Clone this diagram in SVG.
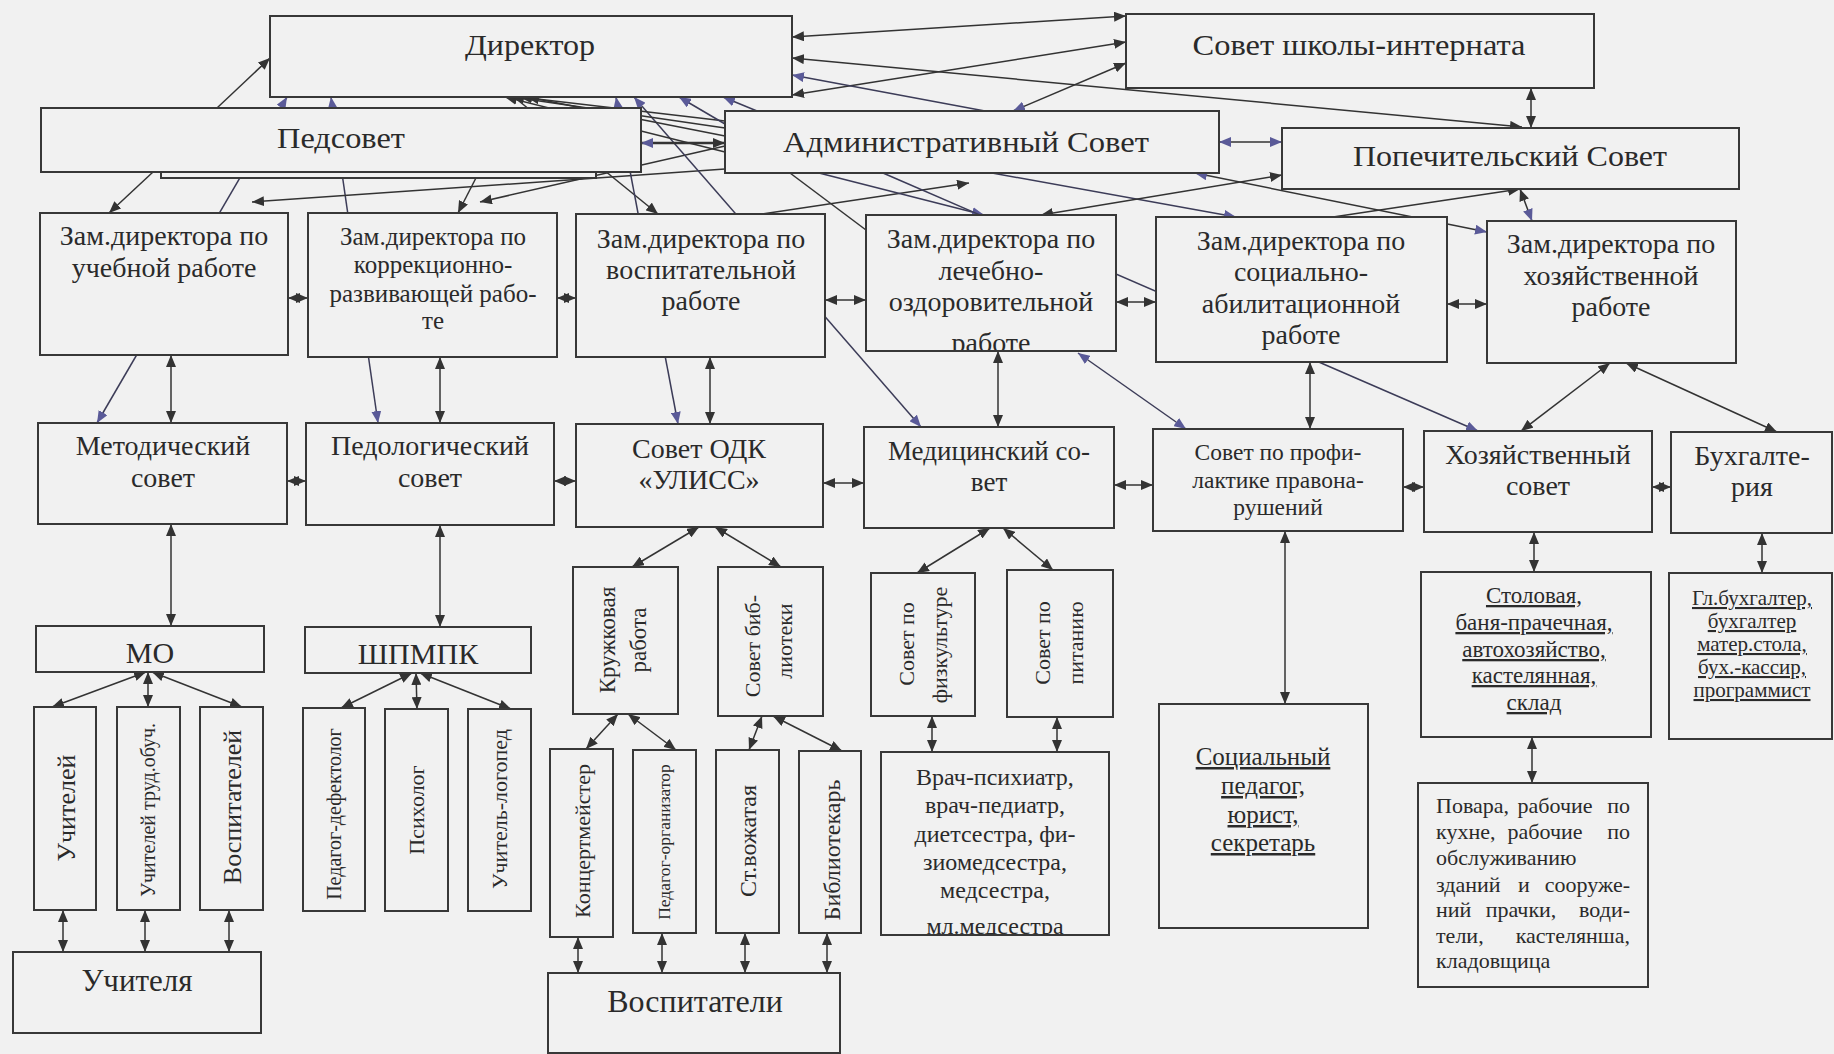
<svg xmlns="http://www.w3.org/2000/svg" width="1834" height="1054" viewBox="0 0 1834 1054">
<defs>
<style>
.box{fill:#f1f1f1;stroke:#383838;stroke-width:2}
.t{font-family:"Liberation Serif","Times New Roman",serif;fill:#2a2a2a;text-anchor:middle}
.st{text-anchor:start}
.en{text-anchor:end}
.l{stroke:#333;stroke-width:1.5;fill:none}
.p{stroke:#3c3c58}
.e{marker-end:url(#ab)}
.s{marker-start:url(#ab)}
.ep{marker-end:url(#ap)}
.sp{marker-start:url(#ap)}
.v{dominant-baseline:central}
.u{text-decoration:underline}
</style>
<marker id="ab" viewBox="0 0 12 10" refX="12" refY="5" markerWidth="12" markerHeight="10" markerUnits="userSpaceOnUse" orient="auto-start-reverse"><path d="M0,0 L12,5 L0,10 z" fill="#333"/></marker>
<marker id="ap" viewBox="0 0 12 10" refX="12" refY="5" markerWidth="12" markerHeight="10" markerUnits="userSpaceOnUse" orient="auto-start-reverse"><path d="M0,0 L12,5 L0,10 z" fill="#5a5a98"/></marker>
<clipPath id="clipLech"><rect x="866" y="215" width="250" height="135"/></clipPath>
<clipPath id="clipVrach"><rect x="881" y="752" width="228" height="182"/></clipPath>
</defs>
<rect x="0" y="0" width="1834" height="1054" fill="#f1f1f1"/>

<g id="connectors">
<line class="l e" x1="217" y1="108" x2="270" y2="58"/>
<line class="l p sp ep" x1="97" y1="423" x2="287" y2="97"/>
<line class="l p sp ep" x1="378" y1="423" x2="331" y2="97"/>
<line class="l e" x1="153" y1="172" x2="109" y2="213"/>
<line class="l e" x1="478" y1="174" x2="458" y2="213"/>
<line class="l e" x1="725" y1="169" x2="252" y2="202"/>
<line class="l e" x1="725" y1="146" x2="480" y2="202"/>
<line class="l e" x1="514" y1="97" x2="658" y2="214"/>
<line class="l p sp ep" x1="678" y1="424" x2="616" y2="97"/>
<line class="l p sp ep" x1="921" y1="427" x2="634" y2="97"/>
<line class="l e" x1="725" y1="152" x2="505" y2="97"/>
<line class="l e" x1="725" y1="128" x2="512" y2="97"/>
<line class="l e" x1="725" y1="121" x2="520" y2="97"/>
<line class="l e" x1="725" y1="136" x2="527" y2="97"/>
<line class="l p ep" x1="725" y1="124" x2="679" y2="97"/>
<line class="l p ep" x1="757" y1="111" x2="723" y2="97"/>
<line class="l sp e" x1="641" y1="143" x2="725" y2="143" style="stroke-width:2.5"/>
<line class="l s e" x1="792" y1="37" x2="1126" y2="16"/>
<line class="l s e" x1="792" y1="58" x2="1522" y2="127"/>
<line class="l s e" x1="792" y1="95" x2="1126" y2="42"/>
<line class="l p ep" x1="985" y1="111" x2="792" y2="75"/>
<line class="l sp e" x1="1013" y1="111" x2="1126" y2="63"/>
<line class="l s e" x1="1531" y1="88" x2="1531" y2="128"/>
<line class="l sp ep" x1="1219" y1="142" x2="1282" y2="142"/>
<line class="l e" x1="762" y1="214" x2="969" y2="183"/>
<line class="l p ep" x1="819" y1="173" x2="984" y2="215"/>
<line class="l" x1="790" y1="173" x2="866" y2="230"/>
<line class="l p ep" x1="883" y1="173" x2="1478" y2="431"/>
<line class="l p ep" x1="992" y1="173" x2="1236" y2="217"/>
<line class="l s e" x1="1282" y1="175" x2="1041" y2="215"/>
<line class="l e" x1="1333" y1="217" x2="1520" y2="189"/>
<line class="l s ep" x1="1520" y1="189" x2="1532" y2="221"/>
<line class="l sp ep" x1="1195" y1="173" x2="1487" y2="232"/>
<line class="l p sp ep" x1="1078" y1="353" x2="1186" y2="429"/>
<line class="l s e" x1="288" y1="298" x2="308" y2="298"/>
<line class="l s e" x1="557" y1="298" x2="576" y2="298"/>
<line class="l s e" x1="825" y1="300" x2="866" y2="300"/>
<line class="l s e" x1="1116" y1="302" x2="1156" y2="302"/>
<line class="l s e" x1="1447" y1="304" x2="1487" y2="304"/>
<line class="l s e" x1="171" y1="355" x2="171" y2="423"/>
<line class="l s e" x1="440" y1="357" x2="440" y2="423"/>
<line class="l s e" x1="710" y1="357" x2="710" y2="424"/>
<line class="l s e" x1="998" y1="351" x2="998" y2="427"/>
<line class="l s e" x1="1310" y1="362" x2="1310" y2="429"/>
<line class="l s e" x1="1610" y1="363" x2="1521" y2="431"/>
<line class="l s e" x1="1626" y1="363" x2="1777" y2="432"/>
<line class="l s e" x1="287" y1="481" x2="306" y2="481"/>
<line class="l s e" x1="554" y1="481" x2="576" y2="481"/>
<line class="l s e" x1="823" y1="483" x2="864" y2="483"/>
<line class="l s e" x1="1114" y1="485" x2="1153" y2="485"/>
<line class="l s e" x1="1403" y1="487" x2="1424" y2="487"/>
<line class="l s e" x1="1652" y1="487" x2="1671" y2="487"/>
<line class="l s e" x1="171" y1="524" x2="171" y2="626"/>
<line class="l s e" x1="440" y1="525" x2="440" y2="627"/>
<line class="l s e" x1="146" y1="672" x2="52" y2="707"/>
<line class="l s e" x1="148" y1="672" x2="148" y2="707"/>
<line class="l s e" x1="152" y1="672" x2="242" y2="707"/>
<line class="l s e" x1="412" y1="673" x2="341" y2="708"/>
<line class="l s e" x1="416" y1="673" x2="417" y2="709"/>
<line class="l s e" x1="420" y1="673" x2="511" y2="709"/>
<line class="l s e" x1="63" y1="910" x2="63" y2="952"/>
<line class="l s e" x1="145" y1="910" x2="145" y2="952"/>
<line class="l s e" x1="229" y1="910" x2="229" y2="952"/>
<line class="l s e" x1="699" y1="527" x2="632" y2="567"/>
<line class="l s e" x1="715" y1="527" x2="781" y2="567"/>
<line class="l s e" x1="990" y1="528" x2="917" y2="573"/>
<line class="l s e" x1="1003" y1="528" x2="1053" y2="570"/>
<line class="l s e" x1="618" y1="714" x2="586" y2="749"/>
<line class="l s e" x1="628" y1="714" x2="676" y2="750"/>
<line class="l s e" x1="762" y1="716" x2="749" y2="750"/>
<line class="l s e" x1="773" y1="716" x2="842" y2="751"/>
<line class="l s e" x1="932" y1="716" x2="932" y2="752"/>
<line class="l s e" x1="1057" y1="717" x2="1057" y2="752"/>
<line class="l s e" x1="578" y1="937" x2="578" y2="973"/>
<line class="l s e" x1="662" y1="933" x2="662" y2="973"/>
<line class="l s e" x1="745" y1="933" x2="745" y2="973"/>
<line class="l s e" x1="827" y1="933" x2="827" y2="973"/>
<line class="l s e" x1="1285" y1="531" x2="1285" y2="704"/>
<line class="l s e" x1="1534" y1="532" x2="1534" y2="572"/>
<line class="l s e" x1="1762" y1="533" x2="1762" y2="573"/>
<line class="l s e" x1="1532" y1="737" x2="1532" y2="783"/>
</g>

<g id="director"><rect class="box" x="270" y="16" width="522" height="81"/><text class="t" x="530" y="55" font-size="29" textLength="130" lengthAdjust="spacingAndGlyphs">Директор</text></g>
<g id="sovet-shkoly"><rect class="box" x="1126" y="14" width="468" height="74"/><text class="t" x="1359" y="55" font-size="29" textLength="333" lengthAdjust="spacingAndGlyphs">Совет школы-интерната</text></g>
<g id="pedsovet"><rect class="box" x="161" y="120" width="435" height="58"/><rect class="box" x="41" y="108" width="600" height="64"/><text class="t" x="341" y="148" font-size="29" textLength="128" lengthAdjust="spacingAndGlyphs">Педсовет</text></g>
<g id="adm-sovet"><rect class="box" x="725" y="111" width="494" height="62"/><text class="t" x="966" y="152" font-size="29" textLength="366" lengthAdjust="spacingAndGlyphs">Административный Совет</text></g>
<g id="popech-sovet"><rect class="box" x="1282" y="128" width="457" height="61"/><text class="t" x="1510" y="166" font-size="29" textLength="314" lengthAdjust="spacingAndGlyphs">Попечительский Совет</text></g>

<g id="zam-ucheb"><rect class="box" x="40" y="213" width="248" height="142"/><text class="t" x="164" y="245" font-size="28">Зам.директора по</text><text class="t" x="164" y="277" font-size="28">учебной работе</text></g>
<g id="zam-korr"><rect class="box" x="308" y="213" width="249" height="144"/><text class="t" x="433" y="245" font-size="25">Зам.директора по</text><text class="t" x="433" y="273" font-size="25">коррекционно-</text><text class="t" x="433" y="302" font-size="25">развивающей рабо-</text><text class="t" x="433" y="329" font-size="25">те</text></g>
<g id="zam-vosp"><rect class="box" x="576" y="214" width="249" height="143"/><text class="t" x="701" y="248" font-size="28">Зам.директора по</text><text class="t" x="701" y="279" font-size="28">воспитательной</text><text class="t" x="701" y="310" font-size="28">работе</text></g>
<g id="zam-lech"><rect class="box" x="866" y="215" width="250" height="136"/><text class="t" x="991" y="248" font-size="28">Зам.директора по</text><text class="t" x="991" y="280" font-size="28">лечебно-</text><text class="t" x="991" y="311" font-size="28">оздоровительной</text><text class="t" x="991" y="352" font-size="28" clip-path="url(#clipLech)">работе</text></g>
<g id="zam-soc"><rect class="box" x="1156" y="217" width="291" height="145"/><text class="t" x="1301" y="250" font-size="28">Зам.директора по</text><text class="t" x="1301" y="281" font-size="28">социально-</text><text class="t" x="1301" y="313" font-size="28">абилитационной</text><text class="t" x="1301" y="344" font-size="28">работе</text></g>
<g id="zam-hoz"><rect class="box" x="1487" y="221" width="249" height="142"/><text class="t" x="1611" y="253" font-size="28">Зам.директора по</text><text class="t" x="1611" y="285" font-size="28">хозяйственной</text><text class="t" x="1611" y="316" font-size="28">работе</text></g>

<g id="metod-sovet"><rect class="box" x="38" y="423" width="249" height="101"/><text class="t" x="163" y="455" font-size="28">Методический</text><text class="t" x="163" y="487" font-size="28">совет</text></g>
<g id="pedolog-sovet"><rect class="box" x="306" y="423" width="248" height="102"/><text class="t" x="430" y="455" font-size="28">Педологический</text><text class="t" x="430" y="487" font-size="28">совет</text></g>
<g id="sovet-odk"><rect class="box" x="576" y="424" width="247" height="103"/><text class="t" x="699" y="458" font-size="28">Совет ОДК</text><text class="t" x="699" y="489" font-size="28">«УЛИСС»</text></g>
<g id="med-sovet"><rect class="box" x="864" y="427" width="250" height="101"/><text class="t" x="989" y="460" font-size="27">Медицинский со-</text><text class="t" x="989" y="491" font-size="27">вет</text></g>
<g id="sovet-profil"><rect class="box" x="1153" y="429" width="250" height="102"/><text class="t" x="1278" y="460" font-size="23.5">Совет по профи-</text><text class="t" x="1278" y="488" font-size="23.5">лактике правона-</text><text class="t" x="1278" y="515" font-size="23.5">рушений</text></g>
<g id="hoz-sovet"><rect class="box" x="1424" y="431" width="228" height="101"/><text class="t" x="1538" y="464" font-size="28">Хозяйственный</text><text class="t" x="1538" y="495" font-size="28">совет</text></g>
<g id="buhgalteria"><rect class="box" x="1671" y="432" width="161" height="101"/><text class="t" x="1752" y="465" font-size="28">Бухгалте-</text><text class="t" x="1752" y="496" font-size="28">рия</text></g>

<g id="mo"><rect class="box" x="36" y="626" width="228" height="46"/><text class="t" x="150" y="663" font-size="30">МО</text></g>
<g id="shpmpk"><rect class="box" x="305" y="627" width="226" height="46"/><text class="t" x="418" y="664" font-size="30">ШПМПК</text></g>
<g id="uchiteley"><rect class="box" x="34" y="707" width="62" height="203"/><text class="t v" x="66" y="808" font-size="26" transform="rotate(-90 66 808)">Учителей</text></g>
<g id="uchiteley-trud"><rect class="box" x="117" y="707" width="63" height="203"/><text class="t v" x="148" y="810" font-size="20" transform="rotate(-90 148 810)">Учителей труд.обуч.</text></g>
<g id="vospitateley"><rect class="box" x="200" y="707" width="63" height="203"/><text class="t v" x="232" y="807" font-size="26" transform="rotate(-90 232 807)">Воспитателей</text></g>
<g id="uchitelya"><rect class="box" x="13" y="952" width="248" height="81"/><text class="t" x="137" y="991" font-size="31">Учителя</text></g>
<g id="defektolog"><rect class="box" x="303" y="708" width="62" height="203"/><text class="t v" x="334" y="814" font-size="20" transform="rotate(-90 334 814)">Педагог-дефектолог</text></g>
<g id="psiholog"><rect class="box" x="385" y="709" width="63" height="202"/><text class="t v" x="416" y="810" font-size="22" transform="rotate(-90 416 810)">Психолог</text></g>
<g id="logoped"><rect class="box" x="468" y="709" width="63" height="202"/><text class="t v" x="499" y="809" font-size="22" transform="rotate(-90 499 809)">Учитель-логопед</text></g>

<g id="kruzhkovaya"><rect class="box" x="573" y="567" width="105" height="147"/><text class="t v" x="607" y="640" font-size="23" transform="rotate(-90 607 640)">Кружковая</text><text class="t v" x="638" y="640" font-size="23" transform="rotate(-90 638 640)">работа</text></g>
<g id="sovet-biblioteki"><rect class="box" x="718" y="567" width="105" height="149"/><text class="t v" x="752" y="646" font-size="22" transform="rotate(-90 752 646)">Совет биб-</text><text class="t v" x="784" y="641" font-size="22" transform="rotate(-90 784 641)">лиотеки</text></g>
<g id="sovet-fiz"><rect class="box" x="871" y="573" width="104" height="143"/><text class="t v" x="906" y="644" font-size="22" transform="rotate(-90 906 644)">Совет по</text><text class="t v" x="939" y="645" font-size="22" transform="rotate(-90 939 645)">физкультуре</text></g>
<g id="sovet-pit"><rect class="box" x="1007" y="570" width="106" height="147"/><text class="t v" x="1042" y="643" font-size="22" transform="rotate(-90 1042 643)">Совет по</text><text class="t v" x="1075" y="643" font-size="22" transform="rotate(-90 1075 643)">питанию</text></g>
<g id="koncertmeister"><rect class="box" x="550" y="749" width="63" height="188"/><text class="t v" x="582" y="841" font-size="22" transform="rotate(-90 582 841)">Концертмейстер</text></g>
<g id="ped-org"><rect class="box" x="633" y="750" width="63" height="183"/><text class="t v" x="664" y="842" font-size="17.5" transform="rotate(-90 664 842)">Педагог-организатор</text></g>
<g id="st-vozhataya"><rect class="box" x="716" y="750" width="63" height="183"/><text class="t v" x="748" y="841" font-size="24" transform="rotate(-90 748 841)">Ст.вожатая</text></g>
<g id="bibliotekar"><rect class="box" x="799" y="751" width="62" height="182"/><text class="t v" x="832" y="850" font-size="24" transform="rotate(-90 832 850)">Библиотекарь</text></g>
<g id="vospitateli"><rect class="box" x="548" y="973" width="292" height="80"/><text class="t" x="695" y="1012" font-size="32">Воспитатели</text></g>
<g id="vrachi"><rect class="box" x="881" y="752" width="228" height="183"/><text class="t" x="995" y="785" font-size="24">Врач-психиатр,</text><text class="t" x="995" y="813" font-size="24">врач-педиатр,</text><text class="t" x="995" y="842" font-size="24">диетсестра, фи-</text><text class="t" x="995" y="870" font-size="24">зиомедсестра,</text><text class="t" x="995" y="898" font-size="24">медсестра,</text><text class="t" x="995" y="934" font-size="24" clip-path="url(#clipVrach)">мл.медсестра</text></g>

<g id="socialny"><rect class="box" x="1159" y="704" width="209" height="224"/><text class="t u" x="1263" y="765" font-size="25">Социальный</text><text class="t u" x="1263" y="794" font-size="25">педагог,</text><text class="t u" x="1263" y="823" font-size="25">юрист,</text><text class="t u" x="1263" y="851" font-size="25">секретарь</text></g>
<g id="stolovaya"><rect class="box" x="1421" y="572" width="230" height="165"/><text class="t u" x="1534" y="603" font-size="23">Столовая,</text><text class="t u" x="1534" y="630" font-size="23">баня-прачечная,</text><text class="t u" x="1534" y="657" font-size="23">автохозяйство,</text><text class="t u" x="1534" y="683" font-size="23">кастелянная,</text><text class="t u" x="1534" y="710" font-size="23">склад</text></g>
<g id="gl-buh"><rect class="box" x="1669" y="573" width="163" height="166"/><text class="t u" x="1752" y="605" font-size="21">Гл.бухгалтер,</text><text class="t u" x="1752" y="628" font-size="21">бухгалтер</text><text class="t u" x="1752" y="651" font-size="21">матер.стола,</text><text class="t u" x="1752" y="674" font-size="21">бух.-кассир,</text><text class="t u" x="1752" y="697" font-size="21">программист</text></g>
<g id="povara"><rect class="box" x="1418" y="783" width="230" height="204"/>
<text class="t st" x="1436" y="813" font-size="22">Повара,</text><text class="t" x="1555" y="813" font-size="22">рабочие</text><text class="t en" x="1630" y="813" font-size="22">по</text>
<text class="t st" x="1436" y="839" font-size="22">кухне,</text><text class="t" x="1545" y="839" font-size="22">рабочие</text><text class="t en" x="1630" y="839" font-size="22">по</text>
<text class="t st" x="1436" y="865" font-size="22">обслуживанию</text>
<text class="t st" x="1436" y="892" font-size="22">зданий</text><text class="t" x="1524" y="892" font-size="22">и</text><text class="t en" x="1630" y="892" font-size="22">сооруже-</text>
<text class="t st" x="1436" y="917" font-size="22">ний</text><text class="t" x="1521" y="917" font-size="22">прачки,</text><text class="t en" x="1630" y="917" font-size="22">води-</text>
<text class="t st" x="1436" y="943" font-size="22">тели,</text><text class="t en" x="1630" y="943" font-size="22">кастелянша,</text>
<text class="t st" x="1436" y="968" font-size="22">кладовщица</text></g>
</svg>
